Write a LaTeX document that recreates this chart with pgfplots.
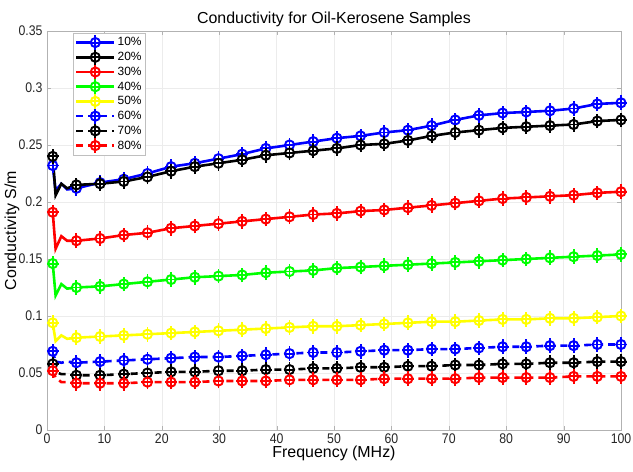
\documentclass[border=0pt]{standalone}
\usepackage{pgfplots}
\pgfplotsset{compat=1.18}
\usepackage{pgfplotstable}
\usepackage{fontspec}
\setmainfont{Liberation Sans}
\newfontfamily\tickfont{Liberation Sans}[FakeStretch=0.88]

\definecolor{mblue}{RGB}{0,0,255}
\definecolor{mgreen}{RGB}{0,255,0}
\definecolor{myellow}{RGB}{255,255,0}
\definecolor{mred}{RGB}{255,0,0}

\pgfdeclareplotmark{cplus}{%
  \pgfpathcircle{\pgfpointorigin}{\pgfplotmarksize}%
  \pgfusepathqfillstroke
  \pgfpathmoveto{\pgfqpoint{0pt}{-1.6\pgfplotmarksize}}%
  \pgfpathlineto{\pgfqpoint{0pt}{1.6\pgfplotmarksize}}%
  \pgfpathmoveto{\pgfqpoint{-1.3\pgfplotmarksize}{0pt}}%
  \pgfpathlineto{\pgfqpoint{1.3\pgfplotmarksize}{0pt}}%
  \pgfusepathqstroke
}

\pgfplotstableread{
f s10 s20 s30 s40 s50 s60 s70 s80
1 0.232 0.240 0.191 0.146 0.094 0.069 0.058 0.052
1.5 0.210 0.206 0.159 0.118 0.078 0.060 0.051 0.046
2.5 0.216 0.216 0.170 0.128 0.083 0.059 0.049 0.042
3.5 0.211 0.212 0.166 0.124 0.080 0.060 0.049 0.042
5.125 0.212 0.215 0.166 0.125 0.081 0.059 0.048 0.041
9.25 0.217 0.216 0.168 0.126 0.082 0.060 0.048 0.041
13.375 0.220 0.218 0.171 0.128 0.083 0.061 0.049 0.041
17.5 0.225 0.222 0.173 0.130 0.084 0.062 0.050 0.042
21.625 0.231 0.227 0.177 0.132 0.085 0.063 0.051 0.042
25.75 0.234 0.231 0.179 0.134 0.086 0.064 0.051 0.042
29.875 0.238 0.234 0.181 0.135 0.087 0.064 0.052 0.043
34 0.242 0.237 0.183 0.136 0.088 0.065 0.052 0.043
38.125 0.247 0.241 0.185 0.138 0.089 0.066 0.053 0.043
42.25 0.250 0.243 0.187 0.139 0.090 0.067 0.053 0.044
46.375 0.253 0.245 0.189 0.140 0.091 0.068 0.054 0.044
50.5 0.256 0.247 0.190 0.142 0.091 0.068 0.054 0.044
54.625 0.258 0.250 0.192 0.143 0.092 0.069 0.055 0.044
58.75 0.261 0.251 0.193 0.144 0.093 0.070 0.055 0.045
62.875 0.263 0.254 0.195 0.145 0.094 0.070 0.056 0.045
67 0.267 0.258 0.197 0.146 0.095 0.071 0.056 0.045
71.125 0.272 0.261 0.199 0.147 0.095 0.071 0.057 0.045
75.25 0.276 0.263 0.201 0.148 0.096 0.072 0.057 0.046
79.375 0.278 0.265 0.203 0.149 0.097 0.073 0.058 0.046
83.5 0.279 0.266 0.204 0.150 0.097 0.073 0.058 0.046
87.625 0.280 0.267 0.205 0.151 0.098 0.074 0.059 0.046
91.75 0.282 0.268 0.206 0.152 0.098 0.074 0.059 0.047
95.875 0.286 0.271 0.208 0.153 0.099 0.075 0.060 0.047
100 0.287 0.272 0.209 0.154 0.100 0.075 0.060 0.047
}\data

\begin{document}
\begin{tikzpicture}
\path[use as bounding box] (-47bp,-42bp) rectangle (586bp,430bp);
\begin{axis}[
  width=574bp, height=399bp, scale only axis,
  xmin=0, xmax=100, ymin=0, ymax=0.35,
  xtick={0,10,20,30,40,50,60,70,80,90,100},
  ytick={0,0.05,0.1,0.15,0.2,0.25,0.3,0.35},
  /pgf/number format/.cd, fixed, precision=2, assume math mode=true, /pgfplots/.cd,
  grid=major, major grid style={gray!15, line width=0.6bp},
  axis line style={gray!60}, tick style={gray!60},
  major tick length=4bp,
  tick label style={font=\tickfont\fontsize{14}{16}\selectfont, text=black!85},
  yticklabel style={xshift=-1bp},
  xlabel={Frequency (MHz)}, ylabel={Conductivity S/m},
  label style={font=\fontsize{16}{18}\selectfont},
  xlabel style={yshift=4bp},
  ylabel style={at={(axis description cs:-0.061,0.5)}, anchor=center},
  title={Conductivity for Oil-Kerosene Samples},
  title style={font=\fontsize{16}{18}\selectfont, yshift=-5bp},
  every axis plot/.append style={line width=2.6bp, mark=cplus, mark size=4.6bp,
     mark options={solid, fill=white, line width=1.9bp},
     mark indices={1,5,6,7,8,9,10,11,12,13,14,15,16,17,18,19,20,21,22,23,24,25,26,27,28}},
  legend image code/.code={\draw[#1, mark indices={2}] plot coordinates {(0bp,0bp) (19bp,0bp) (38bp,0bp)};},
  legend style={at={(0.045,0.995)}, anchor=north west, draw=gray!50, fill=white,
     font=\fontsize{12}{12}\selectfont, inner sep=2bp, row sep=0bp,
     cells={anchor=west}},
]
\addplot[color=mblue] table[x=f,y=s10] {\data};
\addlegendentry{10\%}
\addplot[color=black] table[x=f,y=s20] {\data};
\addlegendentry{20\%}
\addplot[color=mred] table[x=f,y=s30] {\data};
\addlegendentry{30\%}
\addplot[color=mgreen] table[x=f,y=s40] {\data};
\addlegendentry{40\%}
\addplot[color=myellow] table[x=f,y=s50] {\data};
\addlegendentry{50\%}
\addplot[color=mblue, dash pattern=on 7bp off 5bp] table[x=f,y=s60] {\data};
\addlegendentry{60\%}
\addplot[color=black, dash pattern=on 7bp off 5bp] table[x=f,y=s70] {\data};
\addlegendentry{70\%}
\addplot[color=mred, dash pattern=on 7bp off 5bp] table[x=f,y=s80] {\data};
\addlegendentry{80\%}
\end{axis}
\end{tikzpicture}
\end{document}
